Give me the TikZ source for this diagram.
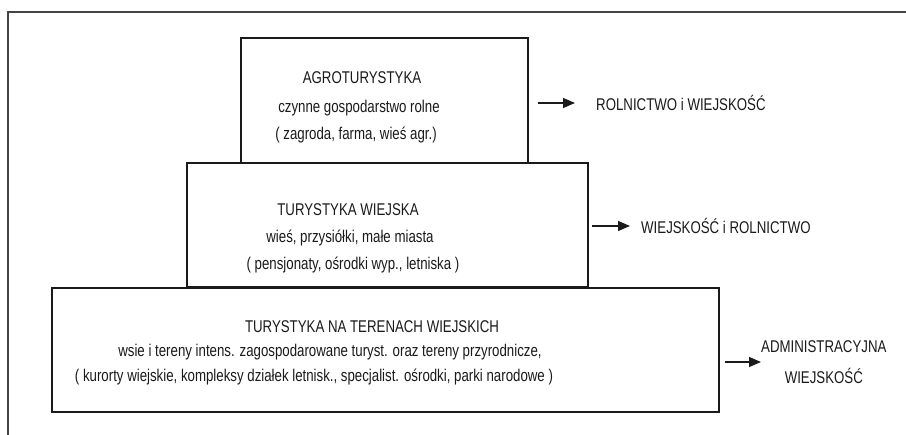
\documentclass[tikz,border=0pt]{standalone}
\usepackage{fontspec}
\setmainfont{Liberation Sans}[FakeStretch=0.78]
\usetikzlibrary{arrows.meta}
\definecolor{ink}{HTML}{1A1A1A}
\definecolor{frame}{HTML}{444444}
\tikzset{
  box/.style={draw=ink, line width=1.2pt, rectangle, inner sep=0pt},
  txt/.style={inner sep=0pt, text=ink, font=\fontsize{17}{31}\selectfont},
  lab/.style={txt, anchor=west},
  arr/.style={draw=ink, line width=1.2pt, -{Triangle[length=12pt,width=10pt]}}
}
\begin{document}
\begin{tikzpicture}[x=1pt,y=-1pt]
\useasboundingbox (0,0) rectangle (906,435);
% frame
\draw[frame, line width=1.4pt] (8,435) -- (8,12) -- (906,12);
% boxes
\node[box, minimum width=287pt, minimum height=125pt] (top) at (384.5,100.5) {};
\node[box, minimum width=401pt, minimum height=124pt] (mid) at (387.5,225) {};
\node[box, minimum width=667pt, minimum height=124pt] (bot) at (385.5,350) {};
% texts top
\node[txt] (t1a) at (362,78) {AGROTURYSTYKA};
\node[txt] (t1b) at (359,108) {czynne gospodarstwo rolne};
\node[txt] (t1c) at (356,135) {( zagroda, farma, wieś agr.)};
% texts middle
\node[txt] (t2a) at (348,210) {TURYSTYKA WIEJSKA};
\node[txt] (t2b) at (350,238) {wieś, przysiółki, małe miasta};
\node[txt] (t2c) at (353,265) {( pensjonaty, ośrodki wyp., letniska )};
% texts bottom
\node[txt] (t3a) at (372,327) {TURYSTYKA NA TERENACH WIEJSKICH};
\node[txt] (t3b) at (330,352) {wsie i tereny intens. zagospodarowane turyst. oraz tereny przyrodnicze,};
\node[txt] (t3c) at (314,377) {( kurorty wiejskie, kompleksy działek letnisk., specjalist. ośrodki, parki narodowe )};
% labels
\node[lab] (l1) at (596,103) {ROLNICTWO i WIEJSKOŚĆ};
\node[lab] (l2) at (641,226) {WIEJSKOŚĆ i ROLNICTWO};
\node[lab, align=center] (l3) at (761,362) {ADMINISTRACYJNA\\WIEJSKOŚĆ};
% arrows
\draw[arr, shorten <=9pt, shorten >=21pt] (top.east |- l1.west) -- (l1.west);
\draw[arr, shorten <=3pt, shorten >=11pt] (mid.east |- l2.west) -- (l2.west);
\draw[arr, shorten <=5pt, shorten >=0pt] (bot.east |- l3.west) -- (l3.west);
\end{tikzpicture}
\end{document}
